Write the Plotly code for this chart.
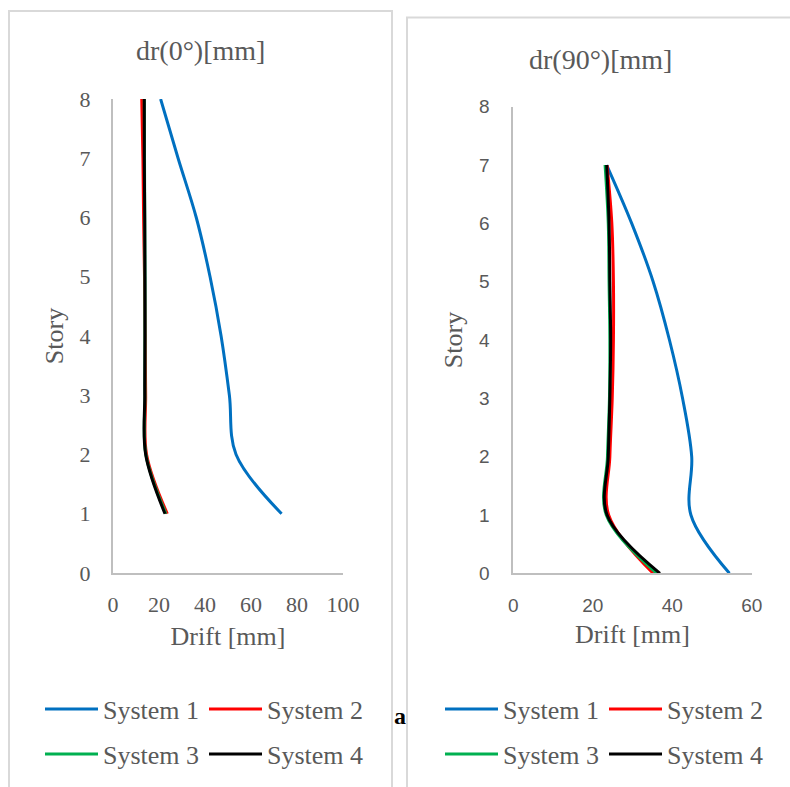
import plotly.graph_objects as go

W, H = 790, 787

# ---------------- data ----------------
stories_0 = [1, 2, 3, 4, 5, 6, 7, 8]
sys1_0 = [73.3, 53.5, 50.6, 47.0, 42.2, 36.2, 28.3, 20.7]
sys2_0 = [23.6, 14.6, 14.2, 14.0, 13.7, 13.3, 13.0, 12.5]
sys3_0 = [23.0, 14.3, 13.9, 13.9, 13.9, 13.8, 13.7, 13.6]
sys4_0 = [22.6, 14.2, 13.8, 13.9, 13.9, 13.8, 13.6, 13.6]

stories_90 = [0, 1, 2, 3, 4, 5, 6, 7]
sys1_90 = [54.4, 44.7, 44.9, 42.6, 39.3, 35.2, 29.8, 23.5]
sys2_90 = [35.2, 24.0, 24.3, 24.9, 25.2, 25.2, 24.8, 23.6]
sys3_90 = [36.1, 23.4, 23.7, 24.2, 24.3, 24.1, 23.9, 23.1]
sys4_90 = [36.9, 23.6, 23.9, 24.3, 24.5, 24.3, 24.1, 23.5]

names = ["System 1", "System 2", "System 3", "System 4"]
colors = ["#0070C0", "#FF0000", "#00B050", "#000000"]

x_ticks_0 = [0, 20, 40, 60, 80, 100]
x_ticks_90 = [0, 20, 40, 60]
y_ticks = [0, 1, 2, 3, 4, 5, 6, 7, 8]

titles = ["dr(0°)[mm]", "dr(90°)[mm]"]
x_title = "Drift [mm]"
y_title = "Story"


def px(x):
    return x / W


def py(y):
    return 1 - y / H


SERIF = "Liberation Serif, Times New Roman, serif"
SANS = "Liberation Sans, Arial, sans-serif"
GREY = "#595959"

fig = go.Figure()

left = [sys1_0, sys2_0, sys3_0, sys4_0]
right = [sys1_90, sys2_90, sys3_90, sys4_90]
leg_left = ["legend", "legend", "legend2", "legend2"]
leg_right = ["legend3", "legend3", "legend4", "legend4"]

for i in range(4):
    fig.add_trace(go.Scatter(
        x=left[i], y=stories_0, mode="lines", name=names[i],
        line=dict(color=colors[i], width=3, shape="spline", smoothing=1.0),
        xaxis="x", yaxis="y", legend=leg_left[i]))
for i in range(4):
    fig.add_trace(go.Scatter(
        x=right[i], y=stories_90, mode="lines", name=names[i],
        line=dict(color=colors[i], width=3, shape="spline", smoothing=1.0),
        xaxis="x2", yaxis="y2", legend=leg_right[i]))

axis_common = dict(showgrid=False, zeroline=False, showline=True, automargin=False,
                   linecolor="#BFBFBF", linewidth=2, ticks="", fixedrange=True)

fig.update_layout(
    width=W, height=H, autosize=False,
    margin=dict(l=0, r=0, t=0, b=0, pad=0, autoexpand=False),
    paper_bgcolor="white", plot_bgcolor="white",
    xaxis=dict(domain=[px(113), px(343)], range=[0, 100], tickvals=x_ticks_0,
               tickfont=dict(family=SERIF, size=22, color=GREY),
               ticklabelstandoff=11,
               title=dict(text=x_title, font=dict(family=SERIF, size=26, color=GREY), standoff=10),
               anchor="y", **axis_common),
    yaxis=dict(domain=[py(573), py(99)], range=[0, 8], tickvals=y_ticks,
               tickfont=dict(family=SERIF, size=22, color=GREY),
               ticklabelstandoff=16,
               title=dict(text=y_title, font=dict(family=SERIF, size=26, color=GREY), standoff=8),
               anchor="x", **axis_common),
    xaxis2=dict(domain=[px(513.3), px(751.7)], range=[0, 60], tickvals=x_ticks_90,
                tickfont=dict(family=SANS, size=19, color=GREY),
                ticklabelstandoff=14,
                title=dict(text=x_title, font=dict(family=SERIF, size=26, color=GREY), standoff=10),
                anchor="y2", **axis_common),
    yaxis2=dict(domain=[py(573.3), py(106.7)], range=[0, 8], tickvals=y_ticks,
                tickfont=dict(family=SANS, size=19, color=GREY),
                ticklabelstandoff=18,
                title=dict(text=y_title, font=dict(family=SERIF, size=26, color=GREY), standoff=9),
                anchor="x2", **axis_common),
)

legend_common = dict(orientation="h", font=dict(family=SERIF, size=26, color=GREY),
                     bgcolor="rgba(0,0,0,0)", borderwidth=0, itemwidth=53,
                     entrywidth=96, entrywidthmode="pixels",
                     xanchor="left", yanchor="middle", tracegroupgap=0,
                     itemclick=False, itemdoubleclick=False)
fig.update_layout(
    legend=dict(x=px(40), y=py(709), **legend_common),
    legend2=dict(x=px(40), y=py(754), **legend_common),
    legend3=dict(x=px(440), y=py(709), **legend_common),
    legend4=dict(x=px(440), y=py(754), **legend_common),
)

# panel borders
fig.add_shape(type="rect", xref="paper", yref="paper",
              x0=px(9), x1=px(392), y0=py(800), y1=py(11),
              line=dict(color="#D9D9D9", width=2), layer="below")
fig.add_shape(type="rect", xref="paper", yref="paper",
              x0=px(407), x1=px(795), y0=py(800), y1=py(17.5),
              line=dict(color="#D9D9D9", width=2), layer="below")

# panel titles
fig.add_annotation(text=titles[0], x=px(200), y=py(51), xref="paper", yref="paper",
                   showarrow=False, xanchor="center", yanchor="middle",
                   font=dict(family=SERIF, size=28, color=GREY))
fig.add_annotation(text=titles[1], x=px(600), y=py(59), xref="paper", yref="paper",
                   showarrow=False, xanchor="center", yanchor="middle",
                   font=dict(family=SERIF, size=28, color=GREY))
fig.add_annotation(text="<b>a</b>", x=px(400), y=py(716), xref="paper", yref="paper",
                   showarrow=False, xanchor="center", yanchor="middle",
                   font=dict(family=SERIF, size=24, color="#000000"))

fig.write_html("out.html")
